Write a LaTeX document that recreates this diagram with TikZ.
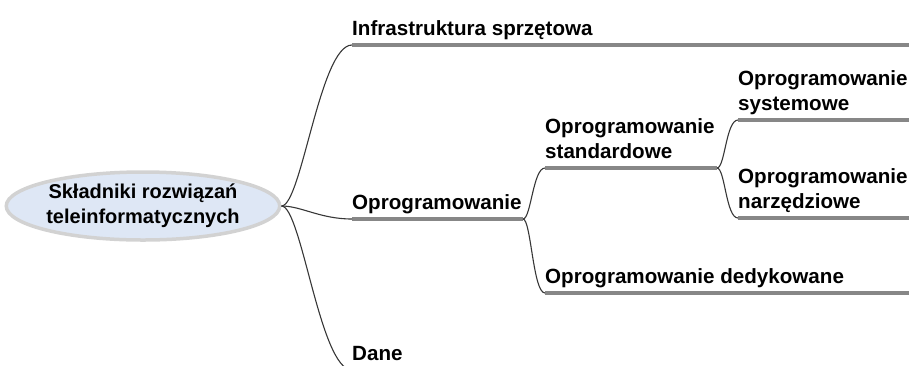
\documentclass[tikz,border=0pt]{standalone}
\usepackage{fontspec}
\setmainfont{Liberation Sans}
\usetikzlibrary{shapes.geometric}
\definecolor{mapgray}{RGB}{135,135,135}
\definecolor{mapfill}{RGB}{222,231,245}
\definecolor{mapedge}{RGB}{210,210,210}
\definecolor{mapcurve}{RGB}{55,55,55}

\begin{document}
\begin{tikzpicture}[x=1pt,y=-1pt,
    topic/.style={anchor=south west,inner sep=0pt,align=left,yshift=2pt,
                  font=\fontsize{20.6}{25}\selectfont\bfseries},
    bar/.style={draw=mapgray,line width=4.5pt},
    branch/.style={draw=mapcurve,line width=1.1pt}]
  \clip (0,0) rectangle (909,365);
  \node[ellipse,draw=mapedge,line width=3.5pt,fill=mapfill,inner sep=0pt,
        minimum height=68pt,align=center,
        font=\fontsize{20}{25}\selectfont\bfseries] (root) at (143,206)
    {Składniki rozwiązań\\teleinformatycznych};

  % bars under the topics
  \coordinate (infra-l) at (352,45);  \coordinate (infra-r) at (909,45);
  \coordinate (soft-l) at (352,219);  \coordinate (soft-r) at (523,219);
  \coordinate (data-l) at (352,370);  \coordinate (data-r) at (420,370);
  \coordinate (std-l) at (545,168);   \coordinate (std-r) at (717,168);
  \coordinate (ded-l) at (545,293);   \coordinate (ded-r) at (909,293);
  \coordinate (sys-l) at (738,120);   \coordinate (sys-r) at (909,120);
  \coordinate (tool-l) at (738,218);  \coordinate (tool-r) at (909,218);
  \foreach \n in {infra,soft,data,std,ded,sys,tool}
    \draw[bar] (\n-l) -- (\n-r);

  \node[topic] (infra) at (infra-l) {Infrastruktura sprzętowa\strut};
  \node[topic] (soft) at (soft-l) {Oprogramowanie\strut};
  \node[topic] (data) at (data-l) {Dane\strut};
  \node[topic] (std) at (std-l) {Oprogramowanie\\standardowe\strut};
  \node[topic] (ded) at (ded-l) {Oprogramowanie dedykowane\strut};
  \node[topic] (sys) at (sys-l) {Oprogramowanie\\systemowe\strut};
  \node[topic] (tool) at (tool-l) {Oprogramowanie\\narzędziowe\strut};

  \foreach \n in {infra-l,soft-l,data-l}
    \draw[branch] (root.east) .. controls +(20,0) and +(-32,0) .. (\n);
  \foreach \n in {std-l,ded-l}
    \draw[branch] (soft-r) .. controls +(8,0) and +(-12,0) .. (\n);
  \foreach \n in {sys-l,tool-l}
    \draw[branch] (std-r) .. controls +(8,0) and +(-12,0) .. (\n);
\end{tikzpicture}
\end{document}
